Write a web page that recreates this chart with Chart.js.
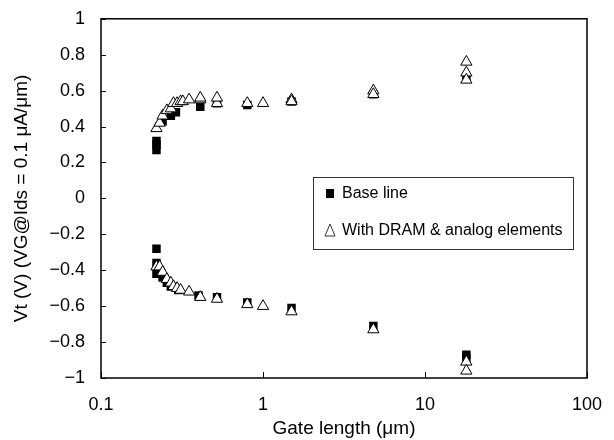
<!DOCTYPE html>
<html>
<head>
<meta charset="utf-8">
<script src="https://cdn.jsdelivr.net/npm/chart.js@4"></script>
<style>
  html, body { margin: 0; padding: 0; background: #fff; }
  #wrap { width: 614px; height: 440px; position: relative; }
</style>
</head>
<body>
<div id="wrap"><canvas id="vtChart"></canvas></div>
<script>
// Base line (filled squares)
const baseX = [0.22, 0.22, 0.22, 0.24, 0.27, 0.29, 0.41, 0.52, 0.8, 1.5, 4.8, 18,
               0.22, 0.22, 0.22, 0.24, 0.255, 0.27, 0.3, 0.4, 0.52, 0.8, 1.5, 4.8, 18, 18];
const baseY = [0.27, 0.3, 0.32, 0.43, 0.46, 0.48, 0.51, 0.53, 0.52, 0.54, 0.58, 0.67,
               -0.28, -0.36, -0.42, -0.44, -0.47, -0.49, -0.51, -0.54, -0.55, -0.58, -0.61, -0.71, -0.87, -0.89];

// With DRAM & analog elements (open triangles)
const dramX = [0.22, 0.23, 0.24, 0.255, 0.27, 0.28, 0.295, 0.31, 0.32, 0.35, 0.41, 0.41, 0.52, 0.52, 0.8, 1.0, 1.5, 1.5, 4.8, 4.8, 18, 18, 18,
               0.22, 0.23, 0.24, 0.255, 0.27, 0.28, 0.295, 0.31, 0.35, 0.41, 0.52, 0.8, 1.0, 1.5, 4.8, 18, 18];
const dramY = [0.39, 0.42, 0.46, 0.49, 0.5, 0.53, 0.53, 0.54, 0.54, 0.55, 0.55, 0.56, 0.53, 0.56, 0.53, 0.53, 0.55, 0.54, 0.6, 0.58, 0.76, 0.7, 0.66,
               -0.38, -0.38, -0.41, -0.45, -0.47, -0.49, -0.5, -0.51, -0.52, -0.55, -0.56, -0.59, -0.6, -0.63, -0.73, -0.91, -0.96];

const xTicks = [0.1, 1, 10, 100];
const yTicks = [-1, -0.8, -0.6, -0.4, -0.2, 0, 0.2, 0.4, 0.6, 0.8, 1];
const seriesLabels = ['Base line', 'With DRAM & analog elements'];

const FONT = '"Liberation Sans", Arial, sans-serif';
Chart.defaults.font.family = FONT;
Chart.defaults.color = '#000';

function fmtY(v) {
  const s = String(Math.round(v * 10) / 10);
  return s.replace('-', '\u2212');
}

// frame, inward ticks and the boxed legend
const framePlugin = {
  id: 'frame',
  afterDraw(chart) {
    const { ctx, chartArea: a, scales } = chart;
    ctx.save();
    ctx.strokeStyle = '#000';
    ctx.lineWidth = 1.5;
    ctx.strokeRect(a.left, a.top, a.right - a.left, a.bottom - a.top);

    ctx.lineWidth = 1;
    ctx.beginPath();
    yTicks.forEach(v => {
      const y = Math.round(scales.y.getPixelForValue(v)) + 0.5;
      ctx.moveTo(a.left, y);
      ctx.lineTo(a.left + 5, y);
    });
    xTicks.forEach(v => {
      const x = Math.round(scales.x.getPixelForValue(v)) + 0.5;
      ctx.moveTo(x, a.bottom);
      ctx.lineTo(x, a.bottom - 6);
    });
    ctx.stroke();

    // legend box
    const bx = 313, by = 177, bw = 260, bh = 72;
    ctx.strokeStyle = '#333';
    ctx.lineWidth = 1;
    ctx.strokeRect(bx + 0.5, by + 0.5, bw, bh);
    ctx.font = '16px ' + FONT;
    ctx.fillStyle = '#000';
    ctx.textBaseline = 'middle';
    ctx.fillRect(326, 189, 8, 9);
    ctx.fillText(seriesLabels[0], 342, 194);
    ctx.beginPath();
    ctx.moveTo(330, 224);
    ctx.lineTo(335, 236);
    ctx.lineTo(325, 236);
    ctx.closePath();
    ctx.stroke();
    ctx.fillText(seriesLabels[1], 342, 231);
    ctx.restore();
  }
};

new Chart(document.getElementById('vtChart'), {
  type: 'scatter',
  data: {
    datasets: [
      {
        label: seriesLabels[0],
        data: baseX.map((x, i) => ({ x, y: baseY[i] })),
        pointStyle: 'rect',
        pointRadius: 6,
        backgroundColor: '#000',
        borderColor: '#000',
        borderWidth: 0,
        order: 2
      },
      {
        label: seriesLabels[1],
        data: dramX.map((x, i) => ({ x, y: dramY[i] })),
        pointStyle: 'triangle',
        pointRadius: 6.5,
        backgroundColor: '#fff',
        borderColor: '#000',
        borderWidth: 1,
        order: 1
      }
    ]
  },
  options: {
    responsive: true,
    maintainAspectRatio: false,
    animation: false,
    layout: { padding: { top: 18, right: 27, left: 0, bottom: 0 } },
    plugins: {
      legend: { display: false },
      tooltip: { enabled: false }
    },
    scales: {
      x: {
        type: 'logarithmic',
        min: 0.1,
        max: 100,
        afterBuildTicks: s => { s.ticks = xTicks.map(v => ({ value: v })); },
        afterFit: s => { s.height = 62; },
        grid: { display: false },
        border: { display: false },
        ticks: {
          font: { size: 18 },
          padding: 8,
          maxRotation: 0,
          callback: v => String(v)
        },
        title: {
          display: true,
          text: 'Gate length (\u03bcm)',
          font: { size: 19 },
          padding: { top: 0, bottom: 0 }
        }
      },
      y: {
        min: -1,
        max: 1,
        afterBuildTicks: s => { s.ticks = yTicks.map(v => ({ value: v })); },
        afterFit: s => { s.width = 101; },
        grid: { display: false },
        border: { display: false },
        ticks: {
          font: { size: 18 },
          padding: 8,
          callback: v => fmtY(v)
        },
        title: {
          display: true,
          text: 'Vt (V) (VG@Ids = 0.1 \u03bcA/\u03bcm)',
          font: { size: 19 },
          padding: { top: 10, bottom: 0 }
        }
      }
    }
  },
  plugins: [framePlugin]
});
</script>
</body>
</html>
